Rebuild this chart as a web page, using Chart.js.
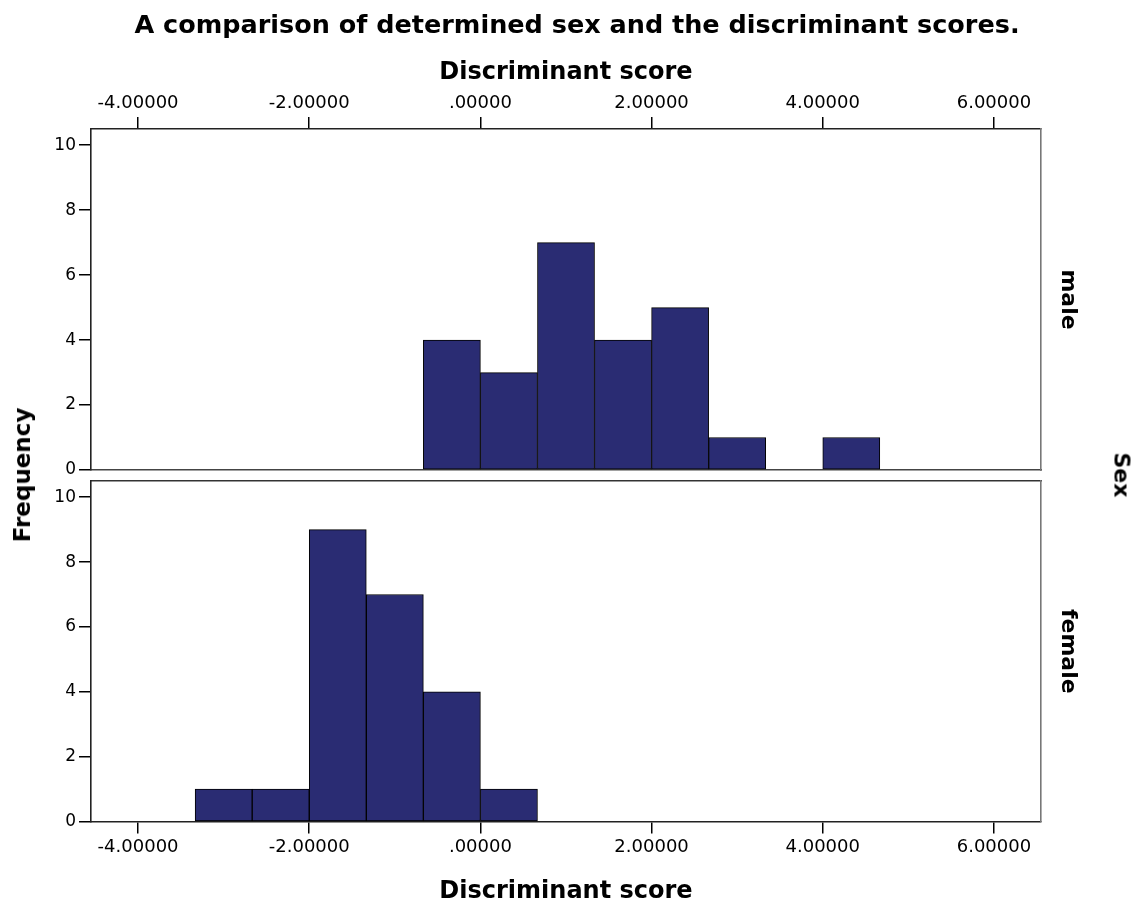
<!DOCTYPE html>
<html>
<head>
<meta charset="utf-8">
<script src="https://cdn.jsdelivr.net/npm/chart.js@4"></script>
<style>
  body { margin: 0; background: #fff; }
  #wrap { position: relative; width: 1144px; height: 911px; overflow: hidden; }
  canvas { position: absolute; left: 0; }
  .lbl { position: absolute; font-family: 'DejaVu Sans'; font-weight: bold; color: #000; white-space: nowrap; }
</style>
</head>
<body>
<div id="wrap">
  <canvas id="male" width="1144" height="482" style="top:0"></canvas>
  <canvas id="female" width="1144" height="436" style="top:475px"></canvas>
  <div class="lbl" id="freq" style="font-size:23px; left:22px; top:475px; transform:translate(-50%,-50%) rotate(-90deg);">Frequency</div>
  <div class="lbl" id="sex" style="font-size:22px; left:1122px; top:475px; transform:translate(-50%,-50%) rotate(90deg);">Sex</div>
</div>
<script>
// valores
const binWidth = 0.6667;
const maleBinStarts = [-0.6667, 0, 0.6667, 1.3333, 2, 2.6667, 3.3333, 4];
const maleCounts = [4, 3, 7, 4, 5, 1, 0, 1];
const femaleBinStarts = [-3.3333, -2.6667, -2, -1.3333, -0.6667, 0];
const femaleCounts = [1, 1, 9, 7, 4, 1];
const sexLabels = ['male', 'female'];
const xMin = -4.55, xMax = 6.55, xStep = 2;
const yMax = 10.5, yStep = 2;

Chart.defaults.font.family = 'DejaVu Sans';
Chart.defaults.color = '#000';

function fmt(v) {
  return v.toFixed(5).replace(/^(-?)0\./, '$1.');
}

function pontos(starts, counts) {
  return starts.map((s, i) => ({ x: s + binWidth / 2, y: counts[i] }));
}

const tickGrid = { drawOnChartArea: false, color: '#000', lineWidth: 1.5, tickLength: 12, offset: false };

function eixoX(position, showTicks, borderColor) {
  return {
    type: 'linear', position: position, min: xMin, max: xMax, offset: false,
    ticks: { display: showTicks, stepSize: xStep, includeBounds: false, autoSkip: false, maxRotation: 0,
             font: { size: 18 }, padding: 3, callback: fmt },
    grid: showTicks ? tickGrid : { display: false, drawTicks: false, offset: false },
    border: { color: borderColor, width: 1.6 },
    title: { display: showTicks, text: 'Discriminant score', font: { size: 24, weight: 'bold' },
             padding: position === 'top' ? { top: 0, bottom: 2 } : { top: 16, bottom: 3 } }
  };
}

function criarPainel(id, starts, counts, sexo, top) {
  const x = eixoX(top ? 'top' : 'bottom', true, '#222');
  const x2 = eixoX(top ? 'bottom' : 'top', false, top ? '#444' : '#333');
  new Chart(document.getElementById(id), {
    type: 'bar',
    data: {
      datasets: [{
        data: pontos(starts, counts),
        backgroundColor: '#2a2c73',
        borderColor: '#000',
        borderWidth: 1,
        borderSkipped: false,
        barPercentage: 1,
        categoryPercentage: 1
      }]
    },
    options: {
      responsive: false,
      animation: false,
      layout: { padding: top ? { top: 0, right: 0, bottom: 12, left: 10 } : { top: 6, right: 0, bottom: 2, left: 10 } },
      plugins: {
        legend: { display: false },
        tooltip: { enabled: false },
        title: {
          display: top,
          text: 'A comparison of determined sex and the discriminant scores.',
          font: { size: 25.5, weight: 'bold' },
          color: '#000',
          padding: { top: 11, bottom: 17 }
        }
      },
      scales: {
        x: x,
        x2: x2,
        y: {
          type: 'linear', position: 'left', min: 0, max: yMax,
          ticks: { stepSize: yStep, includeBounds: false, font: { size: 17 }, padding: 3 },
          grid: tickGrid,
          border: { color: '#222', width: 1.6 },
          afterFit: s => { s.width = 81; s.paddingTop = 0; s.paddingBottom = 0; }
        },
        y2: {
          type: 'linear', position: 'right', min: 0, max: yMax,
          ticks: { display: false },
          grid: { display: false, drawTicks: false },
          border: { color: '#777', width: 1.6 },
          title: { display: true, text: sexo, font: { size: 22, weight: 'bold' }, padding: { top: 63, bottom: 0 } },
          afterFit: s => { s.width = 103; s.paddingTop = 0; s.paddingBottom = 0; }
        }
      }
    }
  });
}

criarPainel('male', maleBinStarts, maleCounts, sexLabels[0], true);
criarPainel('female', femaleBinStarts, femaleCounts, sexLabels[1], false);
</script>
</body>
</html>
